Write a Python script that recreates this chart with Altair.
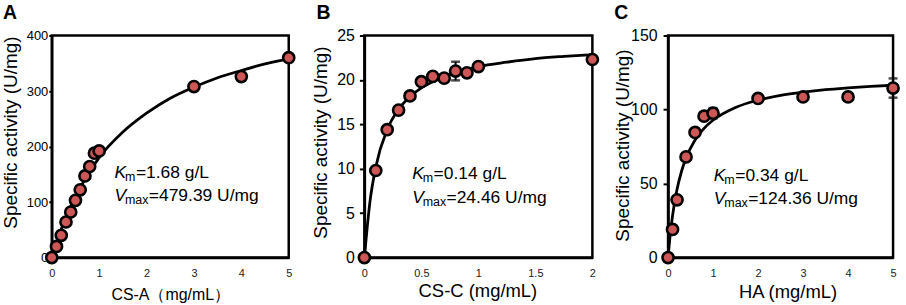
import altair as alt
import pandas as pd

FONT = "Liberation Sans"
RED = "#cd5757"

# ---------------- Panel A : CS-A ----------------
a_x = [0, 0.1, 0.2, 0.3, 0.4, 0.5, 0.6, 0.7, 0.8, 0.9, 1.0, 3, 4, 5]
a_y = [0, 20, 40, 64, 82, 103, 122, 147, 164, 188, 192, 308, 326, 360]
a_fit_x = [0, 0.1, 0.2, 0.3, 0.5, 0.75, 1, 1.5, 2, 2.5, 3, 3.5, 4, 4.5, 5]
a_fit_y = [0, 27, 51, 73, 110, 148, 180, 226, 260, 287, 307, 324, 337, 349, 358]
a_err_x = []
a_err = []

# ---------------- Panel B : CS-C ----------------
b_x = [0, 0.1, 0.2, 0.3, 0.4, 0.5, 0.6, 0.7, 0.8, 0.9, 1.0, 2.0]
b_y = [0, 9.8, 14.4, 16.6, 18.2, 19.8, 20.4, 20.2, 21.0, 20.8, 21.5, 22.3]
b_fit_x = [0, 0.05, 0.1, 0.2, 0.3, 0.4, 0.5, 0.6, 0.8, 1.0, 1.25, 1.5, 1.75, 2.0]
b_fit_y = [0, 6.4, 10.2, 14.4, 16.7, 18.1, 19.1, 19.8, 20.8, 21.5, 22.0, 22.4, 22.65, 22.85]
b_err_x = [0.8]
b_err = [1.05]

# ---------------- Panel C : HA ----------------
c_x = [0, 0.1, 0.2, 0.4, 0.6, 0.8, 1.0, 2, 3, 4, 5]
c_y = [0, 19, 39, 68, 84.5, 95.5, 97.5, 107.5, 108.5, 108.5, 114.5]
c_fit_x = [0, 0.05, 0.1, 0.2, 0.3, 0.4, 0.6, 0.8, 1.0, 1.5, 2, 2.5, 3, 3.5, 4, 4.5, 5]
c_fit_y = [0, 15.9, 28.3, 46.1, 58.3, 67.2, 79.4, 87.3, 92.8, 101.4, 106.3, 109.5, 111.7, 113.4, 114.6, 115.6, 116.4]
c_err_x = [1.0, 5]
c_err = [3.5, 6.5]


def make_panel(px, py, fx, fy, ex, ee, xdom, xvals, ydom, yvals, w, h,
               xtitle, xtitle_size, xtitle_x, xtitle_y,
               ylabel_size, ylabel_pad, ytick, ytitle_x, ytitle_y,
               letter, letter_x, km_txt, vm_txt, tx, ty1, ty2):
    xscale = alt.Scale(domain=xdom, nice=False, zero=False)
    yscale = alt.Scale(domain=ydom, nice=False, zero=False)
    xaxis = alt.Axis(values=xvals, format=".2~f", title=xtitle, grid=False, ticks=False, tickSize=0,
                     labelFontSize=11, labelPadding=10, labelColor="#222", labelFont=FONT,
                     labelFlush=False, labelOverlap=False,
                     titleFont=FONT, titleFontSize=xtitle_size, titleFontWeight="normal",
                     titleColor="black", titleX=xtitle_x, titleY=xtitle_y,
                     titleBaseline="alphabetic",
                     domainColor="black", domainWidth=2.5)
    yaxis = alt.Axis(values=yvals, format=".2~f", title="Specific activity (U/mg)", grid=False,
                     ticks=True, tickSize=ytick, tickWidth=2, tickColor="black",
                     labelFontSize=ylabel_size, labelPadding=ylabel_pad, labelColor="black",
                     labelFont=FONT, labelFlush=False, labelOverlap=False,
                     titleFont=FONT, titleFontSize=19, titleFontWeight="normal",
                     titleColor="black", titleX=ytitle_x, titleY=ytitle_y,
                     titleBaseline="bottom",
                     domainColor="black", domainWidth=2.5)

    pts = pd.DataFrame({"x": px, "y": py})
    fit = pd.DataFrame({"x": fx, "y": fy})
    one = pd.DataFrame({"k": [0]})

    layers = []
    layers.append(
        alt.Chart(fit).mark_line(color="black", strokeWidth=2.8, interpolate="monotone").encode(
            x=alt.X("x:Q", scale=xscale, axis=xaxis),
            y=alt.Y("y:Q", scale=yscale, axis=yaxis),
        )
    )
    if ex:
        ys = [py[px.index(v)] for v in ex]
        err = pd.DataFrame({"x": ex,
                            "lo": [a - b for a, b in zip(ys, ee)],
                            "hi": [a + b for a, b in zip(ys, ee)]})
        layers.append(
            alt.Chart(err).mark_rule(color="black", strokeWidth=2).encode(
                x=alt.X("x:Q", scale=xscale, axis=xaxis),
                y=alt.Y("lo:Q", scale=yscale, axis=yaxis),
                y2="hi:Q",
            )
        )
        for f in ["lo", "hi"]:
            layers.append(
                alt.Chart(err).mark_tick(orient="horizontal", color="black", thickness=2.5, size=9).encode(
                    x=alt.X("x:Q", scale=xscale, axis=xaxis),
                    y=alt.Y(f + ":Q", scale=yscale, axis=yaxis),
                )
            )
    layers.append(
        alt.Chart(pts).mark_circle(color=RED, stroke="black", strokeWidth=2.6, size=125, opacity=1).encode(
            x=alt.X("x:Q", scale=xscale, axis=xaxis),
            y=alt.Y("y:Q", scale=yscale, axis=yaxis),
        )
    )

    fs = 17.5
    sub = 12.5
    def txt(t, x, y, size, style="normal", weight="normal"):
        return alt.Chart(one).mark_text(text=t, font=FONT, fontSize=size, fontStyle=style,
                                        fontWeight=weight, align="left", baseline="alphabetic",
                                        color="black").encode(x=alt.value(x), y=alt.value(y))

    layers += [
        txt("K", tx, ty1, fs, "italic"),
        txt("m", tx + 10.5, ty1 + 3.5, sub),
        txt(km_txt, tx + 21.5, ty1, fs),
        txt("V", tx, ty2, fs, "italic"),
        txt("max", tx + 10.5, ty2 + 3.5, sub),
        txt(vm_txt, tx + 34.5, ty2, fs),
        txt(letter, letter_x, -17, 19.5, weight="bold"),
    ]
    return alt.layer(*layers).properties(width=w, height=h)


H = 223
pa = make_panel(a_x, a_y, a_fit_x, a_fit_y, a_err_x, a_err, [0, 5], [0, 1, 2, 3, 4, 5],
                [0, 400], [0, 100, 200, 300, 400], 238, H,
                "CS-A（mg/mL）", 16, 119, 42.5,
                13, 1, 3, -31, 97,
                "A", -49, "=1.68 g/L", "=479.39 U/mg", 63, 143, 166)
pb = make_panel(b_x, b_y, b_fit_x, b_fit_y, b_err_x, b_err, [0, 2], [0, 0.5, 1, 1.5, 2],
                [0, 25], [0, 5, 10, 15, 20, 25], 229, H,
                "CS-C (mg/mL)", 18.5, 113.5, 39.5,
                16, 5, 5, -34, 107,
                "B", -48, "=0.14 g/L", "=24.46 U/mg", 48, 144, 168)
pc = make_panel(c_x, c_y, c_fit_x, c_fit_y, c_err_x, c_err, [0, 5], [0, 1, 2, 3, 4, 5],
                [0, 150], [0, 50, 100, 150], 226, H,
                "HA (mg/mL)", 18.5, 120, 40,
                16, 6, 5, -36, 110,
                "C", -54, "=0.34 g/L", "=124.36 U/mg", 46, 146, 169)

chart = alt.hconcat(pa, pb, pc, spacing=76, bounds="flush").properties(
    padding={"left": 0, "top": 0, "right": 0, "bottom": 0}
).configure_view(
    stroke="black", strokeWidth=2.5
)

chart.save("out.html", embed_options={"renderer": "svg", "actions": False})
